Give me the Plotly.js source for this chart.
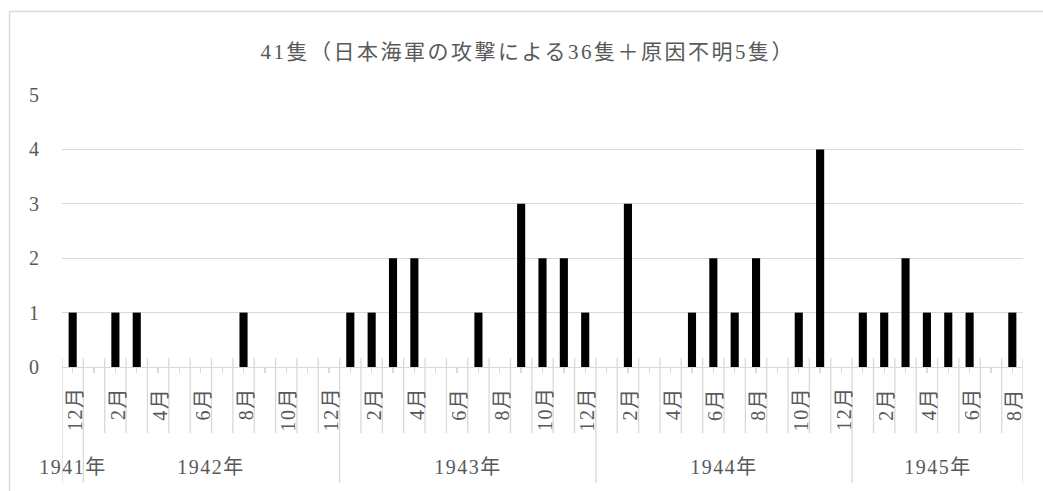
<!DOCTYPE html>
<html>
<head>
<meta charset="utf-8">
<script src="https://cdn.plot.ly/plotly-3.0.1.min.js"></script>
<style>
html,body{margin:0;padding:0;background:#fff;}
#chart{width:1043px;height:491px;}
#chart .gtitle{letter-spacing:2.5px;}
#chart .annotation-text{letter-spacing:1.5px;}
</style>
</head>
<body>
<div id="chart"></div>
<script>
// Data: monthly counts, Dec 1941 – Aug 1945
const yearOf = [1941,
  1942,1942,1942,1942,1942,1942,1942,1942,1942,1942,1942,1942,
  1943,1943,1943,1943,1943,1943,1943,1943,1943,1943,1943,1943,
  1944,1944,1944,1944,1944,1944,1944,1944,1944,1944,1944,1944,
  1945,1945,1945,1945,1945,1945,1945,1945];
const monthOf = [12,
  1,2,3,4,5,6,7,8,9,10,11,12,
  1,2,3,4,5,6,7,8,9,10,11,12,
  1,2,3,4,5,6,7,8,9,10,11,12,
  1,2,3,4,5,6,7,8];
const counts = [1,
  0,1,1,0,0,0,0,1,0,0,0,0,
  1,1,2,2,0,0,1,0,3,2,2,1,
  0,3,0,0,1,2,1,2,0,1,4,0,
  1,1,2,1,1,1,0,1];
const yearLabels = ['1941年','1942年','1943年','1944年','1945年'];
const titleText = '41隻（日本海軍の攻撃による36隻＋原因不明5隻）';

const FONT = 'Times New Roman, DejaVu Serif, Noto Sans CJK JP, serif';
const GRAY = '#595959';
const LINE = '#d9d9d9';

const n = counts.length;
const idx = counts.map((_, i) => i);

const L = 62, R = 20, T = 95, B = 124, W = 1043, H = 491;
const PH = H - T - B, PW = W - L - R;
const py = p => (H - B - p) / PH;
const px = p => (p - L) / PW;

const shapes = [];
// outer chart border
shapes.push({type:'rect', xref:'paper', yref:'paper', x0:px(9.5), x1:px(1060), y0:py(11.5), y1:py(520),
  line:{color:LINE, width:1.3}, fillcolor:'rgba(0,0,0,0)', layer:'below'});
// month boundaries
for (let i = 0; i <= n; i++) {
  shapes.push({type:'line', xref:'x', yref:'paper', x0:i-0.5, x1:i-0.5, y0:py(358), y1:py(433),
    line:{color:LINE, width:1.3}});
}
// year boundaries
const yearStarts = [];
for (let i = 0; i < n; i++) if (i === 0 || yearOf[i] !== yearOf[i-1]) yearStarts.push(i);
yearStarts.concat([n]).forEach(i => {
  shapes.push({type:'line', xref:'x', yref:'paper', x0:i-0.5, x1:i-0.5, y0:py(433), y1:py(483),
    line:{color:LINE, width:1.3}});
});

const annotations = [];
// month labels (every other month)
for (let i = 0; i < n; i++) {
  if (monthOf[i] % 2 === 0) {
    annotations.push({x:i+0.1, y:py(387), xref:'x', yref:'paper', text:monthOf[i] + '月',
      textangle:-90, showarrow:false, xanchor:'center', yanchor:'top',
      font:{family:FONT, size:20, color:GRAY}});
  }
}
// year labels
const uniqYears = [...new Set(yearOf)];
uniqYears.forEach((yr, k) => {
  const members = idx.filter(i => yearOf[i] === yr);
  const c = (members[0] + members[members.length-1]) / 2;
  annotations.push({x:c, y:py(467), xref:'x', yref:'paper', text:yearLabels[k],
    showarrow:false, xanchor:'center', yanchor:'middle',
    font:{family:FONT, size:20, color:GRAY}});
});

const trace = {
  type:'bar', x: idx, y: counts, width: 0.38,
  marker:{color:'#000000', line:{width:0}},
  hoverinfo:'skip'
};

const layout = {
  width: W, height: H,
  margin:{l:L, r:R, t:T, b:B},
  paper_bgcolor:'#ffffff', plot_bgcolor:'#ffffff',
  showlegend:false,
  title:{text:titleText, x:0.506, xref:'container', y:1-52/H, yref:'container', yanchor:'middle', xanchor:'center',
    font:{family:FONT, size:21, color:GRAY}},
  xaxis:{range:[-0.5, n-0.5], showgrid:false, zeroline:false, showline:true, linecolor:LINE, linewidth:1.3,
    tickvals: idx, ticks:'outside', ticklen:5, tickcolor:LINE, tickwidth:1.3, showticklabels:false, fixedrange:true},
  yaxis:{range:[0,5], dtick:1, tick0:0, showgrid:true, gridcolor:LINE, gridwidth:1.3, zeroline:false, showline:false,
    ticks:'', ticklabelstandoff:22, tickfont:{family:FONT, size:20, color:GRAY}, fixedrange:true},
  shapes: shapes,
  annotations: annotations
};

Plotly.newPlot('chart', [trace], layout, {displayModeBar:false, staticPlot:true});
</script>
</body>
</html>
